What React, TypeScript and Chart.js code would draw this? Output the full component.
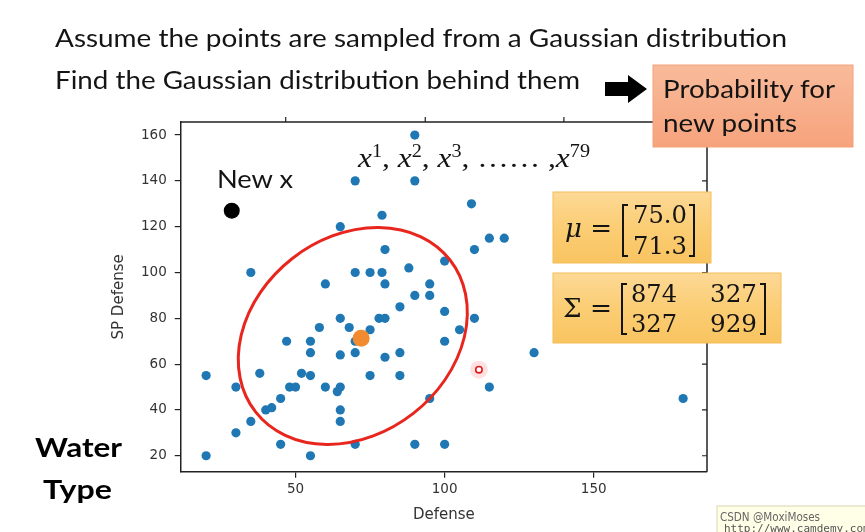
import React, { useEffect, useRef } from 'react';
import { Chart, registerables } from 'chart.js';
Chart.register(...registerables);

// ---- data ----
const defenseValues = [70, 65, 35, 60, 70, 65, 90, 90, 109, 79, 115, 120, 110, 80, 100, 75, 79, 88, 80, 95, 90, 95, 85, 100, 78, 80, 110, 58, 68, 47, 55, 55, 65, 70, 70, 20, 38, 30, 52, 55, 48, 50, 60, 64, 65, 45, 40, 42, 65, 65, 35, 30, 45, 20, 55, 70, 105, 100, 130, 115, 180, 95, 90, 100, 75, 80, 85, 75, 85];
const spDefenseValues = [140, 120, 100, 95, 100, 80, 160, 140, 130, 125, 115, 115, 110, 110, 105, 100, 100, 102, 95, 95, 90, 90, 85, 83, 80, 80, 80, 76, 76, 70, 70, 65, 64, 65, 70, 55, 56, 50, 56, 55, 50, 50, 50, 48, 50, 45, 40, 41, 40, 35, 35, 30, 25, 20, 20, 25, 75, 70, 65, 50, 45, 45, 25, 25, 75, 63, 65, 55, 55];
const meanPoint = [72, 71.3];
const newPoint = [28.6, 127];
const cursorPoint = [111.5, 57.6];
const xTicks = [50, 100, 150];
const yTicks = [20, 40, 60, 80, 100, 120, 140, 160];
const topTickValues = [46.7, 93.5, 140];
const ellipseCenter = [69.2, 72.3];
const muValues = ['75.0', '71.3'];
const sigmaValues = [['874', '327'], ['327', '929']];

const pairs = defenseValues.map((x, i) => ({ x, y: spDefenseValues[i] }));

const framePlugin = {
  id: 'frame',
  afterDraw(chart: any) {
    const { ctx, chartArea: a, scales } = chart;
    ctx.save();
    ctx.strokeStyle = '#222';
    ctx.lineWidth = 1.5;
    ctx.beginPath();
    ctx.moveTo(a.left, a.top);
    ctx.lineTo(a.right, a.top);
    ctx.lineTo(a.right, a.bottom);
    ctx.stroke();
    ctx.lineWidth = 1.2;
    ctx.beginPath();
    topTickValues.forEach((v) => {
      const px = scales.x.getPixelForValue(v);
      ctx.moveTo(px, a.top);
      ctx.lineTo(px, a.top - 5);
    });
    yTicks.forEach((v) => {
      const py = scales.y.getPixelForValue(v);
      ctx.moveTo(a.right, py);
      ctx.lineTo(a.right - 5, py);
    });
    ctx.stroke();
    ctx.restore();
  },
};

const ellipsePlugin = {
  id: 'ellipse',
  afterDatasetsDraw(chart: any) {
    const { ctx, scales } = chart;
    const cx = scales.x.getPixelForValue(ellipseCenter[0]);
    const cy = scales.y.getPixelForValue(ellipseCenter[1]);
    ctx.save();
    ctx.strokeStyle = '#e8261e';
    ctx.lineWidth = 3;
    ctx.beginPath();
    ctx.ellipse(cx, cy, 123.4, 98.3, (-38 * Math.PI) / 180, 0, Math.PI * 2);
    ctx.stroke();
    ctx.restore();
  },
};

function ChartCanvas() {
  const ref = useRef<HTMLCanvasElement>(null);
  useEffect(() => {
    if (!ref.current) return;
    const tickFont = { family: 'DejaVu Sans', size: 13.5 };
    const titleFont = { family: 'DejaVu Sans', size: 15 };
    const chart = new Chart(ref.current, {
      type: 'scatter',
      data: {
        datasets: [
          { label: 'water', data: pairs, backgroundColor: '#1f77b4', borderWidth: 0, pointRadius: 4.6, order: 5 },
          { label: 'glow', data: [{ x: cursorPoint[0], y: cursorPoint[1] }], backgroundColor: 'rgba(255,90,90,0.18)', borderWidth: 0, pointRadius: 9, order: 4 },
          { label: 'mean', data: [{ x: meanPoint[0], y: meanPoint[1] }], backgroundColor: '#f28a30', borderWidth: 0, pointRadius: 8.5, order: 3 },
          { label: 'new', data: [{ x: newPoint[0], y: newPoint[1] }], backgroundColor: '#000', borderWidth: 0, pointRadius: 8, order: 3 },
          { label: 'cursor', data: [{ x: cursorPoint[0], y: cursorPoint[1] }], backgroundColor: '#fff', borderColor: '#e31a1a', borderWidth: 1.6, pointRadius: 3.2, order: 2 },
        ],
      },
      options: {
        animation: false,
        responsive: false,
        events: [],
        layout: { padding: { left: 102, right: 158, top: 122, bottom: 0 } },
        plugins: { legend: { display: false }, tooltip: { enabled: false } },
        scales: {
          x: {
            type: 'linear',
            min: 11.5,
            max: 188,
            afterBuildTicks: (s: any) => { s.ticks = xTicks.map((v) => ({ value: v })); },
            grid: { display: true, drawOnChartArea: false, drawTicks: true, tickLength: 6, color: '#222', lineWidth: 1.2 },
            border: { display: true, color: '#222', width: 1.5 },
            ticks: { color: '#333', font: tickFont, padding: 4, maxRotation: 0, autoSkip: false },
            title: { display: true, text: 'Defense', color: '#333', font: titleFont, padding: { top: 4, bottom: 8 } },
          },
          y: {
            type: 'linear',
            min: 13,
            max: 165.7,
            afterBuildTicks: (s: any) => { s.ticks = yTicks.map((v) => ({ value: v })); },
            grid: { display: true, drawOnChartArea: false, drawTicks: true, tickLength: 6, color: '#222', lineWidth: 1.2 },
            border: { display: true, color: '#222', width: 1.5 },
            ticks: { color: '#333', font: tickFont, padding: 8, autoSkip: false },
            title: { display: true, text: 'SP Defense', color: '#333', font: titleFont, padding: { top: 8, bottom: 5 } },
          },
        },
      },
      plugins: [framePlugin, ellipsePlugin],
    } as any);
    return () => chart.destroy();
  }, []);
  return <canvas ref={ref} width={865} height={532} style={{ position: 'absolute', left: 0, top: 0, width: 865, height: 532 }} />;
}

const slideFont = 'Lato, "Open Sans", sans-serif';
const mathFont = '"DejaVu Serif", "Liberation Serif", serif';
const ink = '#141414';

function Bracket({ x, top, bottom, dir }: { x: number; top: number; bottom: number; dir: number }) {
  const w = 5 * dir;
  return <path d={`M ${x + w} ${top} L ${x} ${top} L ${x} ${bottom} L ${x + w} ${bottom}`} fill="none" stroke={ink} strokeWidth={2} />;
}

function Overlay() {
  return (
    <svg width={865} height={532} style={{ position: 'absolute', left: 0, top: 0, pointerEvents: 'none' }}>
      <defs>
        <linearGradient id="gold" x1="0" y1="0" x2="0" y2="1">
          <stop offset="0" stopColor="#fdd996" />
          <stop offset="0.5" stopColor="#fbcd74" />
          <stop offset="1" stopColor="#f9c461" />
        </linearGradient>
        <linearGradient id="salmon" x1="0" y1="0" x2="0" y2="1">
          <stop offset="0" stopColor="#f9bb9b" />
          <stop offset="1" stopColor="#f6a37c" />
        </linearGradient>
      </defs>
      <text x={55} y={47} fontFamily={slideFont} fontSize={25} fill={ink} textLength={732} lengthAdjust="spacingAndGlyphs">Assume the points are sampled from a Gaussian distribution</text>
      <text x={55} y={89} fontFamily={slideFont} fontSize={25} fill={ink} textLength={525} lengthAdjust="spacingAndGlyphs">Find the Gaussian distribution behind them</text>
      <polygon points="605,82 628,82 628,75 647,89 628,103 628,96 605,96" fill="#000" />
      <rect x={653} y={65} width={200} height={82} fill="url(#salmon)" stroke="#f3a27a" strokeWidth={1} />
      <text x={663} y={98} fontFamily={slideFont} fontSize={25} fill={ink} textLength={172} lengthAdjust="spacingAndGlyphs">Probability for</text>
      <text x={663} y={132} fontFamily={slideFont} fontSize={25} fill={ink} textLength={134} lengthAdjust="spacingAndGlyphs">new points</text>

      <text x={217} y={188} fontFamily={slideFont} fontSize={25} fill={ink} textLength={76} lengthAdjust="spacingAndGlyphs">New x</text>

      <text x={358} y={167} fontFamily={'"Liberation Serif", serif'} fontSize={28} fill={ink} textLength={232} lengthAdjust="spacingAndGlyphs">
        <tspan fontStyle="italic">x</tspan><tspan fontSize={18} dy={-10}>1</tspan><tspan dy={10}>, </tspan>
        <tspan fontStyle="italic">x</tspan><tspan fontSize={18} dy={-10}>2</tspan><tspan dy={10}>, </tspan>
        <tspan fontStyle="italic">x</tspan><tspan fontSize={18} dy={-10}>3</tspan><tspan dy={10}>, …… ,</tspan>
        <tspan fontStyle="italic">x</tspan><tspan fontSize={18} dy={-10}>79</tspan>
      </text>

      <rect x={553} y={192} width={158} height={71} fill="url(#gold)" stroke="#f4bd5a" strokeWidth={1} />
      <text x={565} y={237} fontFamily={mathFont} fontSize={26} fill={ink} textLength={47} lengthAdjust="spacingAndGlyphs"><tspan fontStyle="italic">μ</tspan> =</text>
      <Bracket x={623} top={205} bottom={256} dir={1} />
      <text x={633} y={223} fontFamily={mathFont} fontSize={25} fill={ink} textLength={54} lengthAdjust="spacingAndGlyphs">{muValues[0]}</text>
      <text x={633} y={254} fontFamily={mathFont} fontSize={25} fill={ink} textLength={54} lengthAdjust="spacingAndGlyphs">{muValues[1]}</text>
      <Bracket x={694} top={205} bottom={256} dir={-1} />

      <rect x={553} y={273} width={228} height={70} fill="url(#gold)" stroke="#f4bd5a" strokeWidth={1} />
      <text x={563} y={317} fontFamily={mathFont} fontSize={26} fill={ink} textLength={49} lengthAdjust="spacingAndGlyphs">Σ =</text>
      <Bracket x={622} top={284} bottom={334} dir={1} />
      <text x={631} y={302} fontFamily={mathFont} fontSize={25} fill={ink} textLength={46} lengthAdjust="spacingAndGlyphs">{sigmaValues[0][0]}</text>
      <text x={710} y={302} fontFamily={mathFont} fontSize={25} fill={ink} textLength={47} lengthAdjust="spacingAndGlyphs">{sigmaValues[0][1]}</text>
      <text x={631} y={332} fontFamily={mathFont} fontSize={25} fill={ink} textLength={46} lengthAdjust="spacingAndGlyphs">{sigmaValues[1][0]}</text>
      <text x={710} y={332} fontFamily={mathFont} fontSize={25} fill={ink} textLength={47} lengthAdjust="spacingAndGlyphs">{sigmaValues[1][1]}</text>
      <Bracket x={765} top={284} bottom={334} dir={-1} />

      <text x={35} y={457} fontFamily={slideFont} fontWeight={700} fontSize={27} fill="#000" textLength={87} lengthAdjust="spacingAndGlyphs">Water</text>
      <text x={43} y={499} fontFamily={slideFont} fontWeight={700} fontSize={27} fill="#000" textLength={69} lengthAdjust="spacingAndGlyphs">Type</text>

      <rect x={717} y={506} width={152} height={30} fill="#ffffe8" stroke="#d8d8b0" strokeWidth={1} />
      <text x={720} y={521} fontFamily={'"DejaVu Sans", sans-serif'} fontSize={12} fill="#666" textLength={100} lengthAdjust="spacingAndGlyphs">CSDN @MoxiMoses</text>
      <text x={724} y={532} fontFamily={'"DejaVu Sans Mono", monospace'} fontSize={11} fill="#555">http://www.camdemy.com</text>
    </svg>
  );
}

export default function App() {
  return (
    <div style={{ position: 'absolute', left: 0, top: 0, width: 865, height: 532, background: '#fff', overflow: 'hidden' }}>
      <ChartCanvas />
      <Overlay />
    </div>
  );
}
